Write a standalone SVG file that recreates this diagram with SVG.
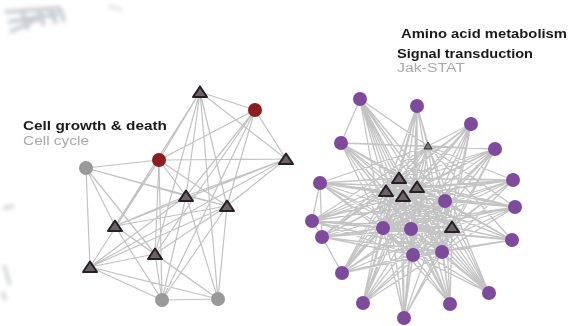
<svg xmlns="http://www.w3.org/2000/svg" width="575" height="326" viewBox="0 0 575 326">
<defs>
<style>
.e{stroke:#c2c2c2;stroke-width:1.2;fill:none}
.er{stroke:#c4c4c4;stroke-width:1.3;fill:none}
.gc{fill:#999}
.rc{fill:#8b1c1f}
.pc{fill:#7d4a9c}
.tri{fill:#6a6368;stroke:#261f25;stroke-width:2;stroke-linejoin:round}
.lb{font-family:"Liberation Sans",Arial,sans-serif;font-weight:bold;font-size:12.5px;fill:#1a1a1a}
.ls{font-family:"Liberation Sans",Arial,sans-serif;font-size:12.5px;fill:#aaa}
</style>
<polygon id="t" points="0,-5.5 7,5 -7,5"/>
<filter id="bl"><feGaussianBlur stdDeviation="2"/></filter>
</defs>
<rect width="575" height="326" fill="#fff"/>
<g id="artifacts" filter="url(#bl)" stroke="#9aa0a8" stroke-width="4" fill="none" opacity="0.55">
<path d="M5 12L60 8M8 22L58 14M10 32L40 18M22 10L28 30M38 8L44 26M50 8L56 24M60 8L64 22"/>
<path d="M108 6L122 10" stroke-width="3" opacity="0.6"/>
<path d="M3 208L14 206M4 265L10 285M2 292L6 300" stroke-width="3"/>
</g>
<g id="connectors">
<path class="e" d="M200 92L255 110M200 92L159 160M200 92L115 226M200 92L186 196M200 92L227 206M200 92L286 159M200 92L218 299M200 92L155 254
M255 110L286 159M255 110L159 160M255 110L186 196M255 110L227 206M255 110L155 254M255 110L162 300
M159 160L86 168M159 160L286 159M159 160L186 196M159 160L227 206M159 160L115 226M159 160L155 254M159 160L162 300M159 160L90 267
M86 168L186 196M86 168L115 226M86 168L90 267M86 168L155 254M86 168L227 206
M286 159L186 196M286 159L227 206M286 159L115 226M286 159L90 267
M186 196L227 206M186 196L115 226M186 196L90 267M186 196L162 300M186 196L218 299
M227 206L115 226M227 206L155 254M227 206L90 267M227 206L162 300M227 206L218 299
M115 226L155 254M115 226L162 300M115 226L218 299
M155 254L90 267M155 254L162 300M155 254L218 299
M90 267L162 300M90 267L218 299M162 300L218 299"/>
<path class="er" d="M360 99L399 178M360 99L386 191M360 99L417 187M360 99L403 196M360 99L452 227M360 99L428 146M360 99L445 201M360 99L383 228M360 99L411 229M360 99L413 255M360 99L442 252
M417 106L399 178M417 106L386 191M417 106L417 187M417 106L403 196M417 106L452 227M417 106L428 146M417 106L445 201M417 106L383 228M417 106L411 229M417 106L413 255M417 106L442 252
M471 124L399 178M471 124L386 191M471 124L417 187M471 124L403 196M471 124L452 227M471 124L428 146M471 124L445 201M471 124L383 228M471 124L411 229M471 124L413 255M471 124L442 252
M341 143L399 178M341 143L386 191M341 143L417 187M341 143L403 196M341 143L452 227M341 143L428 146M341 143L445 201M341 143L383 228M341 143L411 229M341 143L413 255M341 143L442 252
M495 149L399 178M495 149L386 191M495 149L417 187M495 149L403 196M495 149L452 227M495 149L428 146M495 149L445 201M495 149L383 228M495 149L411 229M495 149L413 255M495 149L442 252
M320 183L399 178M320 183L386 191M320 183L417 187M320 183L403 196M320 183L452 227M320 183L428 146M320 183L445 201M320 183L383 228M320 183L411 229M320 183L413 255M320 183L442 252
M513 180L399 178M513 180L386 191M513 180L417 187M513 180L403 196M513 180L452 227M513 180L428 146M513 180L445 201M513 180L383 228M513 180L411 229M513 180L413 255M513 180L442 252
M515 207L399 178M515 207L386 191M515 207L417 187M515 207L403 196M515 207L452 227M515 207L428 146M515 207L445 201M515 207L383 228M515 207L411 229M515 207L413 255M515 207L442 252
M312 221L399 178M312 221L386 191M312 221L417 187M312 221L403 196M312 221L452 227M312 221L428 146M312 221L445 201M312 221L383 228M312 221L411 229M312 221L413 255M312 221L442 252
M322 237L399 178M322 237L386 191M322 237L417 187M322 237L403 196M322 237L452 227M322 237L428 146M322 237L445 201M322 237L383 228M322 237L411 229M322 237L413 255M322 237L442 252
M512 240L399 178M512 240L386 191M512 240L417 187M512 240L403 196M512 240L452 227M512 240L428 146M512 240L445 201M512 240L383 228M512 240L411 229M512 240L413 255M512 240L442 252
M342 273L399 178M342 273L386 191M342 273L417 187M342 273L403 196M342 273L452 227M342 273L428 146M342 273L445 201M342 273L383 228M342 273L411 229M342 273L413 255M342 273L442 252
M489 293L399 178M489 293L386 191M489 293L417 187M489 293L403 196M489 293L452 227M489 293L428 146M489 293L445 201M489 293L383 228M489 293L411 229M489 293L413 255M489 293L442 252
M363 303L399 178M363 303L386 191M363 303L417 187M363 303L403 196M363 303L452 227M363 303L428 146M363 303L445 201M363 303L383 228M363 303L411 229M363 303L413 255M363 303L442 252
M450 304L399 178M450 304L386 191M450 304L417 187M450 304L403 196M450 304L452 227M450 304L428 146M450 304L445 201M450 304L383 228M450 304L411 229M450 304L413 255M450 304L442 252
M404 318L399 178M404 318L386 191M404 318L417 187M404 318L403 196M404 318L452 227M404 318L428 146M404 318L445 201M404 318L383 228M404 318L411 229M404 318L413 255M404 318L442 252
M399 178L386 191M399 178L417 187M386 191L403 196M417 187L403 196M399 178L403 196M386 191L417 187M383 228L411 229M411 229L413 255M413 255L442 252M442 252L452 227M452 227L445 201M445 201L417 187M383 228L386 191M383 228L413 255M411 229L442 252M428 146L399 178M428 146L417 187
M399 178L445 201M399 178L452 227M399 178L383 228M399 178L411 229M399 178L413 255M399 178L442 252M386 191L445 201M386 191L452 227M386 191L411 229M386 191L413 255M386 191L442 252M417 187L452 227M417 187L383 228M417 187L411 229M417 187L413 255M417 187L442 252M403 196L445 201M403 196L452 227M403 196L383 228M403 196L411 229M403 196L413 255M403 196L442 252M445 201L383 228M445 201L411 229M445 201L413 255M445 201L442 252M452 227L383 228M452 227L411 229M452 227L413 255
M341 143L495 149M320 183L312 221M312 221L322 237M322 237L342 273M320 183L322 237M360 99L341 143"/>
</g>
<g id="left-network">
<g id="n-top"><use href="#t" class="tri" x="200" y="92"/></g>
<g id="n-red1"><circle class="rc" cx="255" cy="110" r="7"/></g>
<g id="n-red2"><circle class="rc" cx="159" cy="160" r="7"/></g>
<g id="n-gray1"><circle class="gc" cx="86" cy="168" r="7"/></g>
<g id="n-right"><use href="#t" class="tri" x="286" y="159"/></g>
<g id="n-mid"><use href="#t" class="tri" x="186" y="196"/></g>
<g id="n-mid2"><use href="#t" class="tri" x="227" y="206"/></g>
<g id="n-left"><use href="#t" class="tri" x="115" y="226"/></g>
<g id="n-low"><use href="#t" class="tri" x="155" y="254"/></g>
<g id="n-low2"><use href="#t" class="tri" x="90" y="267"/></g>
<g id="n-gray2"><circle class="gc" cx="162" cy="300" r="7"/></g>
<g id="n-gray3"><circle class="gc" cx="218" cy="299" r="7"/></g>
</g>
<g id="right-network">
<g id="p1"><circle class="pc" cx="360" cy="99" r="7"/></g>
<g id="p2"><circle class="pc" cx="417" cy="106" r="7"/></g>
<g id="p3"><circle class="pc" cx="471" cy="124" r="7"/></g>
<g id="p4"><circle class="pc" cx="341" cy="143" r="7"/></g>
<g id="p5"><circle class="pc" cx="495" cy="149" r="7"/></g>
<g id="p6"><circle class="pc" cx="320" cy="183" r="7"/></g>
<g id="p7"><circle class="pc" cx="513" cy="180" r="7"/></g>
<g id="p8"><circle class="pc" cx="445" cy="201" r="7"/></g>
<g id="p9"><circle class="pc" cx="515" cy="207" r="7"/></g>
<g id="p10"><circle class="pc" cx="312" cy="221" r="7"/></g>
<g id="p11"><circle class="pc" cx="322" cy="237" r="7"/></g>
<g id="p12"><circle class="pc" cx="383" cy="228" r="7"/></g>
<g id="p13"><circle class="pc" cx="411" cy="229" r="7"/></g>
<g id="p14"><circle class="pc" cx="512" cy="240" r="7"/></g>
<g id="p15"><circle class="pc" cx="413" cy="255" r="7"/></g>
<g id="p16"><circle class="pc" cx="442" cy="252" r="7"/></g>
<g id="p17"><circle class="pc" cx="342" cy="273" r="7"/></g>
<g id="p18"><circle class="pc" cx="489" cy="293" r="7"/></g>
<g id="p19"><circle class="pc" cx="363" cy="303" r="7"/></g>
<g id="p20"><circle class="pc" cx="450" cy="304" r="7"/></g>
<g id="p21"><circle class="pc" cx="404" cy="318" r="7"/></g>
<g id="t1"><use href="#t" class="tri" x="399" y="178"/></g>
<g id="t2"><use href="#t" class="tri" x="386" y="191"/></g>
<g id="t3"><use href="#t" class="tri" x="417" y="187"/></g>
<g id="t4"><use href="#t" class="tri" x="403" y="196"/></g>
<g id="t5"><use href="#t" class="tri" x="452" y="227"/></g>
<g id="t6"><polygon points="428,142 432,149 424,149" fill="#777" stroke="#333" stroke-width="1"/></g>
</g>
<g id="labels">
<text class="lb" x="23" y="130" textLength="144" lengthAdjust="spacingAndGlyphs">Cell growth &amp; death</text>
<text class="ls" x="23" y="145" textLength="66" lengthAdjust="spacingAndGlyphs">Cell cycle</text>
<text class="lb" x="401" y="38" textLength="166" lengthAdjust="spacingAndGlyphs">Amino acid metabolism</text>
<text class="lb" x="397" y="58" textLength="136" lengthAdjust="spacingAndGlyphs">Signal transduction</text>
<text class="ls" x="397" y="72" textLength="68" lengthAdjust="spacingAndGlyphs">Jak-STAT</text>
</g>
</svg>
